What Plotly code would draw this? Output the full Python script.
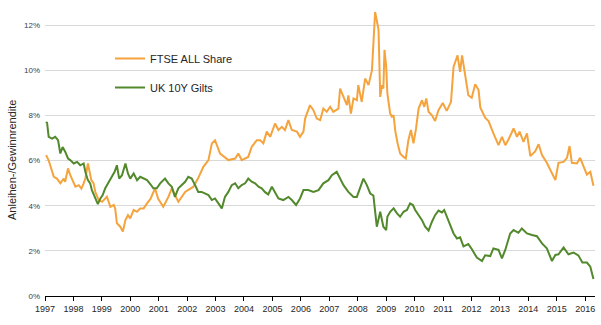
import pandas as pd
import plotly.graph_objects as go

# Decimal-year positions and values
ftse_years = [1997.04, 1997.13, 1997.31, 1997.42, 1997.54, 1997.66, 1997.71, 1997.81, 1997.89,
              1998.07, 1998.19, 1998.28, 1998.36, 1998.42, 1998.51, 1998.56, 1998.63, 1998.71,
              1998.77, 1998.89, 1999.01, 1999.18, 1999.30, 1999.42, 1999.47, 1999.53, 1999.65,
              1999.74, 1999.83, 1999.92, 2000.00, 2000.12, 2000.24, 2000.35, 2000.47, 2000.59,
              2000.71, 2000.87, 2000.98, 2001.16, 2001.34, 2001.46, 2001.69, 2001.93, 2002.22,
              2002.38, 2002.57, 2002.75, 2002.87, 2002.98, 2003.16, 2003.45, 2003.69, 2003.80,
              2003.92, 2004.15, 2004.27, 2004.45, 2004.57, 2004.68, 2004.80, 2004.92, 2005.09,
              2005.21, 2005.33, 2005.44, 2005.56, 2005.68, 2005.86, 2005.97, 2006.09, 2006.15,
              2006.32, 2006.44, 2006.56, 2006.68, 2006.79, 2006.91, 2007.03, 2007.14, 2007.32,
              2007.38, 2007.50, 2007.62, 2007.67, 2007.76, 2007.85, 2007.97, 2008.02, 2008.14,
              2008.26, 2008.38, 2008.50, 2008.55, 2008.61, 2008.67, 2008.73, 2008.79, 2008.85,
              2008.90, 2008.94, 2009.00, 2009.04, 2009.14, 2009.20, 2009.26, 2009.32, 2009.40,
              2009.49, 2009.61, 2009.69, 2009.78, 2009.87, 2009.96, 2010.05, 2010.14, 2010.26,
              2010.34, 2010.41, 2010.49, 2010.61, 2010.72, 2010.84, 2010.99, 2011.13, 2011.28,
              2011.37, 2011.51, 2011.60, 2011.67, 2011.78, 2011.89, 2012.01, 2012.13, 2012.25,
              2012.31, 2012.48, 2012.60, 2012.77, 2012.95, 2013.07, 2013.19, 2013.30, 2013.48,
              2013.60, 2013.69, 2013.83, 2013.95, 2014.07, 2014.24, 2014.36, 2014.48, 2014.65,
              2014.83, 2014.95, 2015.06, 2015.24, 2015.36, 2015.45, 2015.53, 2015.71, 2015.82,
              2015.94, 2016.06, 2016.18, 2016.29]
ftse_values = [6.24, 6.00, 5.28, 5.20, 4.99, 5.20, 5.06, 5.65, 5.35,
               4.84, 4.91, 4.76, 4.99, 5.20, 5.87, 5.50, 5.13, 4.99,
               4.61, 4.25, 4.17, 4.40, 3.95, 4.03, 3.88, 3.22, 3.07,
               2.85, 3.36, 3.58, 3.44, 3.81, 3.73, 3.88, 3.88, 4.10,
               4.30, 4.77, 4.30, 3.95, 4.39, 4.77, 4.17, 4.61, 4.84,
               5.20, 5.72, 6.02, 6.76, 6.90, 6.31, 6.02, 6.09, 6.31,
               6.02, 6.16, 6.60, 6.90, 6.90, 6.76, 7.28, 7.05, 7.64,
               7.35, 7.49, 7.35, 7.79, 7.35, 7.28, 7.05, 7.28, 7.86,
               8.45, 8.23, 7.86, 7.79, 8.30, 8.16, 8.38, 8.16, 8.30,
               9.19, 8.82, 8.45, 8.89, 8.08, 8.75, 8.67, 9.34, 8.60,
               9.63, 9.34, 10.00, 11.40, 12.58, 12.20, 11.80, 8.82, 9.34,
               9.19, 10.90, 10.15, 8.97, 8.08, 7.94, 8.00, 7.30, 6.76,
               6.31, 6.16, 6.09, 6.90, 7.35, 6.76, 7.42, 8.30, 8.67,
               8.38, 8.75, 8.16, 8.00, 7.75, 8.23, 8.55, 8.20, 8.60,
               10.15, 10.66, 9.93, 10.66, 9.80, 8.89, 8.78, 9.38, 9.12,
               8.35, 7.90, 7.75, 7.20, 6.68, 7.05, 6.68, 6.93, 7.42,
               7.05, 7.28, 6.83, 7.20, 6.20, 6.40, 6.72, 6.24, 5.90,
               5.40, 5.13, 5.90, 5.94, 6.12, 6.64, 5.90, 5.87, 6.12,
               5.72, 5.38, 5.50, 4.88]

gilt_years = [1997.04, 1997.07, 1997.13, 1997.25, 1997.36, 1997.46, 1997.54, 1997.62, 1997.71,
              1997.81, 1997.89, 1998.01, 1998.13, 1998.24, 1998.36, 1998.42, 1998.51, 1998.59,
              1998.65, 1998.77, 1998.86, 1998.95, 1999.03, 1999.12, 1999.24, 1999.36, 1999.45,
              1999.53, 1999.61, 1999.71, 1999.83, 1999.92, 2000.00, 2000.12, 2000.24, 2000.35,
              2000.47, 2000.59, 2000.71, 2000.81, 2000.93, 2001.05, 2001.22, 2001.34, 2001.46,
              2001.57, 2001.69, 2001.81, 2001.93, 2002.04, 2002.16, 2002.28, 2002.39, 2002.51,
              2002.63, 2002.75, 2002.87, 2002.98, 2003.10, 2003.22, 2003.33, 2003.45, 2003.57,
              2003.69, 2003.80, 2003.92, 2004.04, 2004.15, 2004.27, 2004.39, 2004.51, 2004.62,
              2004.74, 2004.85, 2004.98, 2005.09, 2005.21, 2005.38, 2005.56, 2005.68, 2005.83,
              2005.97, 2006.09, 2006.26, 2006.44, 2006.62, 2006.79, 2006.97, 2007.09, 2007.26,
              2007.38, 2007.50, 2007.67, 2007.85, 2007.97, 2008.08, 2008.20, 2008.32, 2008.44,
              2008.55, 2008.61, 2008.67, 2008.79, 2008.90, 2009.00, 2009.04, 2009.14, 2009.26,
              2009.38, 2009.49, 2009.61, 2009.73, 2009.84, 2009.94, 2010.02, 2010.14, 2010.26,
              2010.37, 2010.49, 2010.61, 2010.72, 2010.84, 2010.96, 2011.04, 2011.19, 2011.37,
              2011.49, 2011.60, 2011.72, 2011.89, 2012.01, 2012.19, 2012.37, 2012.48, 2012.66,
              2012.77, 2012.95, 2013.07, 2013.19, 2013.36, 2013.48, 2013.65, 2013.77, 2013.95,
              2014.13, 2014.30, 2014.48, 2014.65, 2014.83, 2014.95, 2015.06, 2015.24, 2015.41,
              2015.59, 2015.76, 2015.90, 2016.06, 2016.18, 2016.29]
gilt_values = [7.64, 7.70, 7.05, 6.97, 7.05, 6.90, 6.31, 6.60, 6.39,
               6.09, 6.02, 5.87, 5.94, 5.79, 5.87, 5.50, 5.13, 4.99,
               4.69, 4.32, 4.07, 4.32, 4.47, 4.77, 5.06, 5.35, 5.50,
               5.79, 5.20, 5.35, 5.87, 5.43, 5.20, 5.43, 5.13, 5.28,
               5.20, 5.13, 4.95, 4.77, 4.77, 4.99, 5.20, 4.99, 4.84,
               4.39, 4.77, 4.91, 5.06, 5.28, 5.20, 4.91, 4.61, 4.61,
               4.54, 4.47, 4.25, 4.32, 4.10, 3.88, 4.39, 4.61, 4.91,
               4.99, 4.77, 4.91, 4.99, 5.20, 5.06, 4.99, 4.84, 4.77,
               4.60, 4.50, 4.84, 4.61, 4.32, 4.25, 4.39, 4.25, 4.03,
               4.32, 4.69, 4.69, 4.61, 4.69, 4.99, 5.13, 5.35, 5.50,
               5.20, 4.91, 4.61, 4.39, 4.39, 4.77, 5.20, 4.91, 4.54,
               4.45, 3.81, 3.07, 3.73, 3.07, 2.92, 3.51, 3.73, 3.88,
               3.66, 3.51, 3.73, 3.81, 4.10, 4.03, 3.81, 3.58, 3.36,
               3.07, 2.90, 3.29, 3.58, 3.78, 3.70, 3.81, 3.33, 2.77,
               2.55, 2.60, 2.20, 2.30, 2.08, 1.70, 1.55, 1.80, 1.77,
               2.11, 2.04, 1.67, 2.05, 2.77, 2.92, 2.80, 2.99, 2.77,
               2.70, 2.65, 2.33, 2.11, 1.55, 1.82, 1.85, 2.15, 1.85,
               1.92, 1.80, 1.48, 1.48, 1.30, 0.75]

y_ticks = [0, 2, 4, 6, 8, 10, 12]
y_tick_labels = ["0%", "2%", "4%", "6%", "8%", "10%", "12%"]


def to_dates(years):
    out = []
    for y in years:
        yr = int(y)
        start = pd.Timestamp(year=yr, month=1, day=1)
        end = pd.Timestamp(year=yr + 1, month=1, day=1)
        out.append(start + (end - start) * (y - yr))
    return out


FONT = "Liberation Sans, Arial, sans-serif"
ML, MR, MT, MB = 45, 6, 7, 29
W, H = 601, 325
plot_w = W - ML - MR
plot_h = H - MT - MB

fig = go.Figure()
fig.add_trace(go.Scatter(x=to_dates(ftse_years), y=ftse_values, mode="lines",
                         name="FTSE ALL Share", line=dict(color="#F5A33C", width=2),
                         legendgroup="a"))
fig.add_trace(go.Scatter(x=to_dates(gilt_years), y=gilt_values, mode="lines",
                         name="UK 10Y Gilts", line=dict(color="#52892C", width=2),
                         legendgroup="b"))

fig.update_layout(
    width=W, height=H,
    margin=dict(l=ML, r=MR, t=MT, b=MB),
    paper_bgcolor="white", plot_bgcolor="white",
    font=dict(family=FONT, color="#404040"),
    showlegend=True,
    legend=dict(x=(110 - ML) / plot_w, y=1 - (44 - MT) / plot_h,
                xanchor="left", yanchor="top",
                font=dict(size=11, color="#262626", family=FONT),
                bgcolor="rgba(0,0,0,0)", tracegroupgap=10,
                traceorder="grouped"),
    xaxis=dict(
        type="date",
        range=[pd.Timestamp("1997-01-01"), pd.Timestamp("2016-05-06")],
        tick0="1997-01-01", dtick="M12", tickformat="%Y",
        ticks="outside", ticklen=4, tickcolor="#000000",
        showline=True, linecolor="#000000", linewidth=1,
        showgrid=False, zeroline=False,
        tickfont=dict(size=9, color="#262626"),
    ),
    yaxis=dict(
        range=[0, 12.8], tickvals=y_ticks, ticktext=y_tick_labels,
        showgrid=True, gridcolor="#D9D9D9", gridwidth=1,
        zeroline=False, showline=False,
        tickfont=dict(size=8, color="#404040"),
        ticks="", ticklabelstandoff=4,
    ),
    annotations=[dict(text="Anleihen-/Gewinnrendite", textangle=-90,
                      xref="paper", yref="paper", x=(12 - ML) / plot_w,
                      y=1 - (160 - MT) / plot_h,
                      xanchor="center", yanchor="middle", showarrow=False,
                      font=dict(size=11, color="#262626", family=FONT))],
)

fig.write_html("out.html")
